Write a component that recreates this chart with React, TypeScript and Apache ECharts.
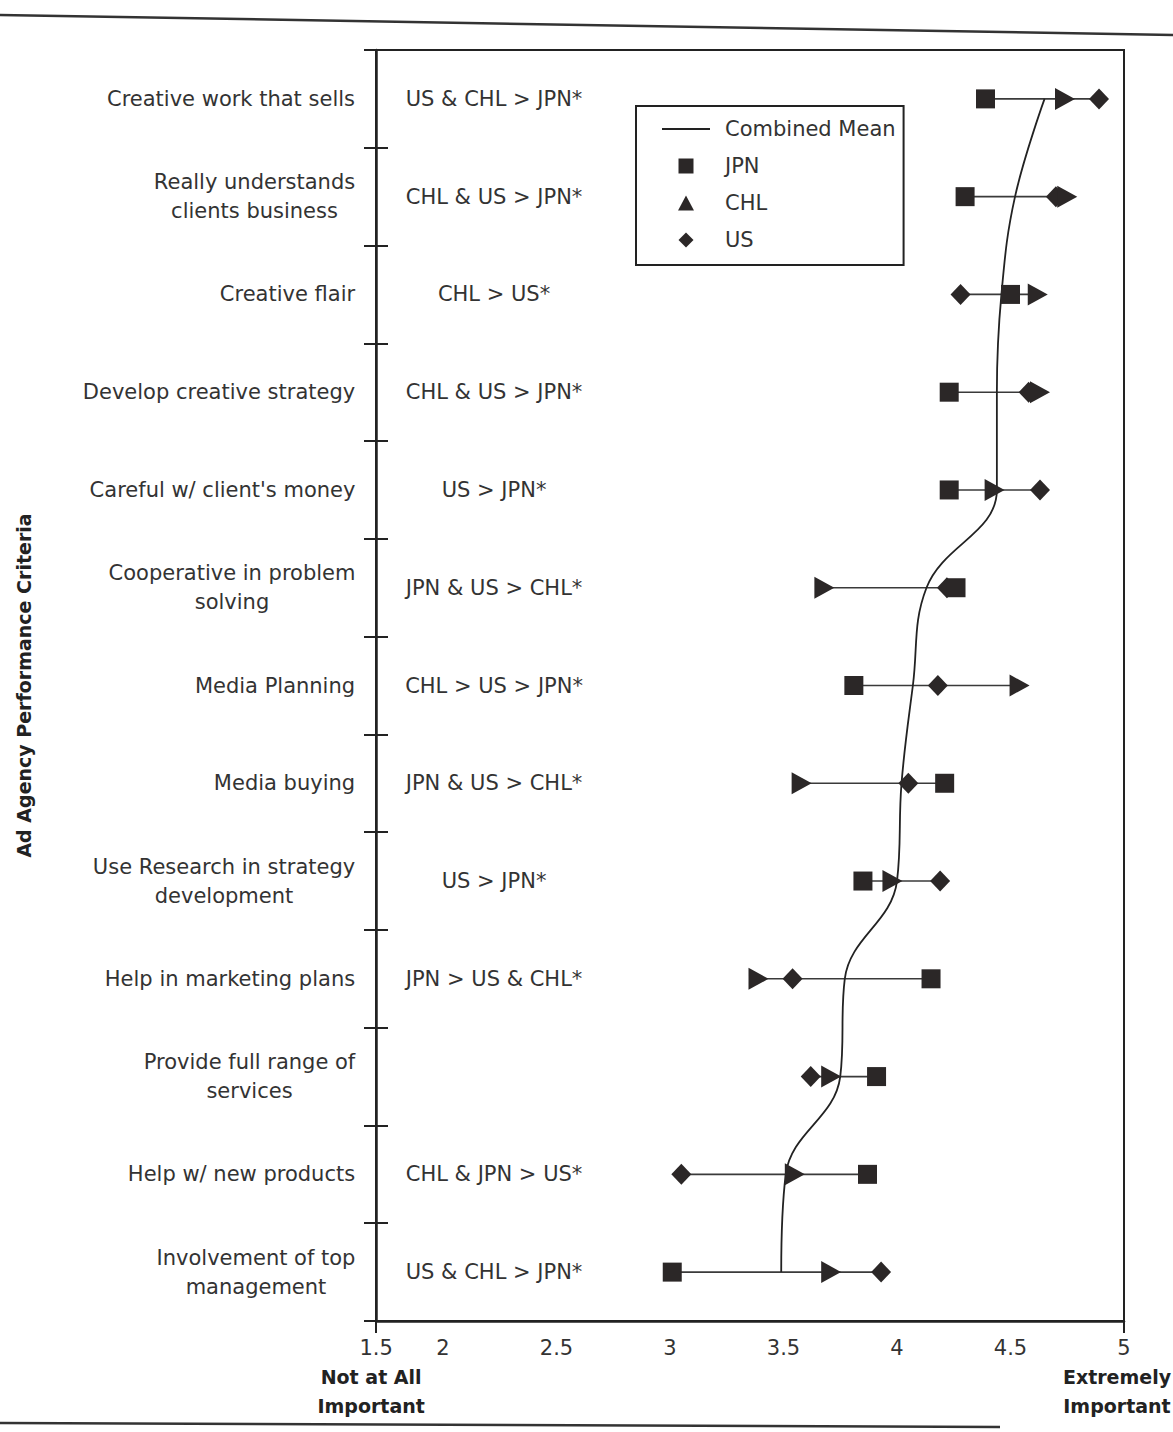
import React, { useEffect, useRef } from "react";
import * as echarts from "echarts";

const categories = [
  "Creative work that sells",
  "Really understands\nclients business",
  "Creative flair",
  "Develop creative strategy",
  "Careful w/ client's money",
  "Cooperative in problem\nsolving",
  "Media Planning",
  "Media buying",
  "Use Research in strategy\ndevelopment",
  "Help in marketing plans",
  "Provide full range of\nservices",
  "Help w/ new products",
  "Involvement of top\nmanagement",
];
const comparisons = [
  "US & CHL > JPN*",
  "CHL & US > JPN*",
  "CHL > US*",
  "CHL & US > JPN*",
  "US > JPN*",
  "JPN & US > CHL*",
  "CHL > US > JPN*",
  "JPN & US > CHL*",
  "US > JPN*",
  "JPN > US & CHL*",
  "",
  "CHL & JPN > US*",
  "US & CHL > JPN*",
];
const jpn = [4.39, 4.3, 4.5, 4.23, 4.23, 4.26, 3.81, 4.21, 3.85, 4.15, 3.91, 3.87, 3.01];
const chl = [4.74, 4.75, 4.62, 4.63, 4.43, 3.68, 4.54, 3.58, 3.98, 3.39, 3.71, 3.55, 3.71];
const us = [4.89, 4.7, 4.28, 4.58, 4.63, 4.22, 4.18, 4.05, 4.19, 3.54, 3.62, 3.05, 3.93];
const combinedMean = [4.65, 4.52, 4.46, 4.44, 4.44, 4.13, 4.07, 4.02, 4.0, 3.77, 3.75, 3.51, 3.49];
const X_MIN = 1.705;
const xTickValues = [X_MIN + 0.0005, 2, 2.5, 3, 3.5, 4, 4.5, 5];
const xTickLabels = ["1.5", "2", "2.5", "3", "3.5", "4", "4.5", "5"];
const lowEndLabel = ["Not at All", "Important"];
const highEndLabel = ["Extremely", "Important"];
const yTitle = "Ad Agency Performance Criteria";
const COMP_X = 2.225;

const FONT = "DejaVu Sans";
const TXT = "#333";
const INK = "#222";
const MARK = "#2b2727";

function measure(t: string, font: string): number {
  const c = document.createElement("canvas").getContext("2d");
  if (!c) return t.length * 11;
  c.font = font;
  return c.measureText(t).width;
}

function nearestIndex(v: number): number {
  let idx = 0;
  let best = Infinity;
  xTickValues.forEach((t, i) => {
    const d = Math.abs(t - v);
    if (d < best) {
      best = d;
      idx = i;
    }
  });
  return idx;
}

function buildOption() {
  const rich: Record<string, any> = {};
  categories.forEach((c, i) => {
    const lines = c.split("\n");
    const w = Math.max(...lines.map((l) => measure(l, `21px "${FONT}"`)));
    rich["r" + i] = {
      width: Math.ceil(w) + 1,
      align: "center",
      fontSize: 21,
      fontFamily: FONT,
      color: TXT,
      lineHeight: 29,
    };
  });

  const rangeData = categories.map((_, i) => {
    const vals = [jpn[i], chl[i], us[i]];
    return [Math.min(...vals), Math.max(...vals), i];
  });

  const boldStyle = {
    fontSize: 19,
    fontWeight: "bold",
    fontFamily: FONT,
    color: INK,
    lineHeight: 29,
  };

  return {
    animation: false,
    backgroundColor: "#fff",
    textStyle: { fontFamily: FONT },
    grid: {
      left: 376,
      right: 49,
      top: 50,
      bottom: 111,
      containLabel: false,
      outerBoundsMode: "none",
      show: true,
      borderColor: INK,
      borderWidth: 2,
      backgroundColor: "transparent",
    },
    legend: {
      data: [
        { name: "Combined Mean", icon: "path://M0,0H48V2H0Z" },
        { name: "JPN", icon: "path://M0,0H10V10H0Z" },
        { name: "CHL", icon: "path://M5,0L10,9.4L0,9.4Z" },
        { name: "US", icon: "path://M5,0L10,5L5,10L0,5Z" },
      ],
      orient: "vertical",
      left: 636,
      top: 106,
      padding: [11, 8, 13, 26],
      itemWidth: 48,
      itemHeight: 15,
      itemGap: 13,
      symbolRotate: 0,
      symbolKeepAspect: true,
      borderColor: INK,
      borderWidth: 2,
      selectedMode: false,
      textStyle: {
        fontSize: 21,
        fontFamily: FONT,
        color: TXT,
        lineHeight: 24,
        padding: [0, 0, 0, 10],
      },
    },
    xAxis: [
      {
        type: "value",
        min: X_MIN,
        max: 5,
        position: "bottom",
        axisLine: { show: true, onZero: false, lineStyle: { color: INK, width: 2.5 } },
        axisTick: {
          show: true,
          customValues: [X_MIN + 0.0005, 5],
          length: 12,
          lineStyle: { color: INK, width: 2 },
        },
        axisLabel: {
          customValues: xTickValues,
          showMinLabel: true,
          showMaxLabel: true,
          hideOverlap: false,
          formatter: (v: number) => xTickLabels[nearestIndex(v)],
          margin: 12,
          fontSize: 21,
          fontFamily: FONT,
          color: TXT,
          lineHeight: 29,
        },
        splitLine: { show: false },
      },
      {
        type: "value",
        min: X_MIN,
        max: 5,
        position: "bottom",
        offset: 0,
        axisLine: { show: false },
        axisTick: { show: false },
        axisLabel: {
          customValues: [X_MIN + 0.0005, 5],
          showMinLabel: true,
          showMaxLabel: true,
          hideOverlap: false,
          formatter: (v: number) =>
            v < 3
              ? lowEndLabel.map((l) => `{b|${l}}`).join("\n")
              : highEndLabel.map((l) => `{e|${l}}`).join("\n"),
          margin: 41,
          lineHeight: 29,
          rich: {
            b: { ...boldStyle, padding: [0, 10, 0, 0] },
            e: { ...boldStyle, padding: [0, 14, 0, 0] },
          },
        },
        splitLine: { show: false },
      },
    ],
    yAxis: [
      {
        type: "category",
        data: categories,
        inverse: true,
        axisLine: { show: true, lineStyle: { color: INK, width: 2.5 } },
        axisTick: { show: true, length: 12, lineStyle: { color: INK, width: 2 } },
        axisLabel: {
          interval: 0,
          margin: 20,
          hideOverlap: false,
          formatter: (v: string, i: number) =>
            v
              .split("\n")
              .map((l) => `{r${i}|${l}}`)
              .join("\n"),
          rich,
        },
        splitLine: { show: false },
        name: yTitle,
        nameLocation: "middle",
        nameRotate: 90,
        nameGap: 343,
        nameTextStyle: { fontSize: 19, fontWeight: "bold", fontFamily: FONT, color: INK },
      },
      {
        type: "category",
        data: categories,
        inverse: true,
        position: "left",
        axisLine: { show: false },
        axisTick: { show: true, inside: true, length: 12, lineStyle: { color: INK, width: 2 } },
        axisLabel: { show: false },
        splitLine: { show: false },
      },
    ],
    series: [
      {
        type: "custom",
        name: "range",
        silent: true,
        z: 1,
        encode: { x: [0, 1], y: 2 },
        data: rangeData,
        renderItem: (params: any, api: any) => {
          const y = api.value(2);
          const p1 = api.coord([api.value(0), y]);
          const p2 = api.coord([api.value(1), y]);
          return {
            type: "line",
            shape: { x1: p1[0], y1: p1[1], x2: p2[0], y2: p2[1] },
            style: { stroke: "#3a3a3a", lineWidth: 1.6 },
          };
        },
      },
      {
        type: "line",
        name: "Combined Mean",
        z: 2,
        symbol: "none",
        smooth: 0.4,
        data: combinedMean.map((v, i) => [v, i]),
        lineStyle: { color: INK, width: 1.8 },
        itemStyle: { color: INK },
      },
      {
        type: "scatter",
        name: "US",
        z: 3,
        symbol: "diamond",
        symbolSize: [20, 21],
        data: us.map((v, i) => [v, i]),
        itemStyle: { color: MARK, opacity: 1 },
      },
      {
        type: "scatter",
        name: "CHL",
        z: 4,
        symbol: "triangle",
        symbolRotate: -90,
        symbolSize: [22, 20],
        data: chl.map((v, i) => [v, i]),
        itemStyle: { color: MARK, opacity: 1 },
      },
      {
        type: "scatter",
        name: "JPN",
        z: 5,
        symbol: "rect",
        symbolSize: 19,
        data: jpn.map((v, i) => [v, i]),
        itemStyle: { color: MARK, opacity: 1 },
      },
      {
        type: "scatter",
        name: "comparison",
        silent: true,
        z: 6,
        symbolSize: 0,
        data: comparisons.map((_, i) => [COMP_X, i]),
        itemStyle: { color: "transparent", opacity: 1 },
        label: {
          show: true,
          position: "inside",
          formatter: (p: any) => comparisons[p.dataIndex],
          fontSize: 21,
          fontFamily: FONT,
          color: TXT,
          opacity: 1,
        },
      },
    ],
    graphic: [
      {
        type: "line",
        silent: true,
        shape: { x1: 0, y1: 15, x2: 1173, y2: 35 },
        style: { stroke: "#333", lineWidth: 2.5 },
      },
      {
        type: "line",
        silent: true,
        shape: { x1: 0, y1: 1423, x2: 1000, y2: 1427 },
        style: { stroke: "#333", lineWidth: 2.5 },
      },
    ],
  };
}

export default function App() {
  const ref = useRef<HTMLDivElement>(null);
  useEffect(() => {
    if (!ref.current) return;
    document.documentElement.style.overflow = "hidden";
    document.body.style.margin = "0";
    const chart = echarts.init(ref.current, null, { renderer: "svg" });
    chart.setOption(buildOption() as any);
    return () => chart.dispose();
  }, []);
  return (
    <div
      ref={ref}
      style={{ position: "fixed", left: 0, top: 0, width: 1173, height: 1432, background: "#fff" }}
    />
  );
}
